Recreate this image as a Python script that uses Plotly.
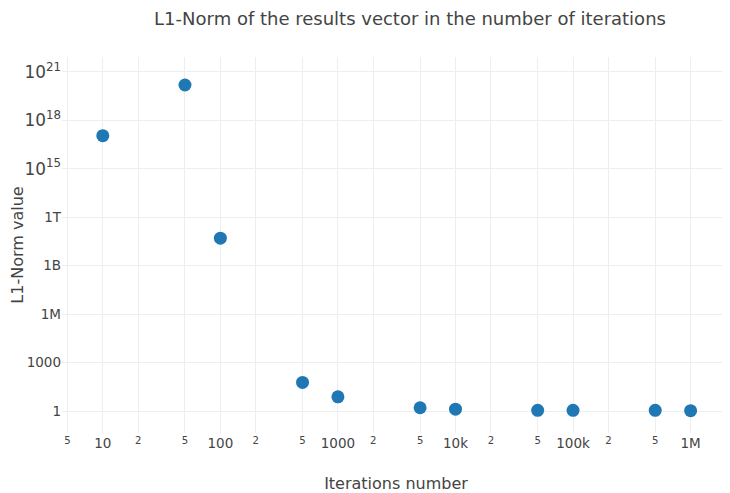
import plotly.graph_objects as go

iterations = [10, 50, 100, 500, 1000, 5000, 10000, 50000, 100000, 500000, 1000000]
l1_norm = [1.1e17, 1.5e20, 5e10, 59, 7.6, 1.6, 1.3, 1.1, 1.1, 1.1, 1.05]

fig = go.Figure(
    go.Scatter(
        x=iterations,
        y=l1_norm,
        mode="markers",
        marker=dict(size=13, color="#1f77b4"),
    )
)

fig.update_layout(
    template="none",
    width=722,
    height=485,
    margin=dict(l=54, r=0, t=49, b=60),
    font=dict(family="Verdana, DejaVu Sans, sans-serif", color="#444", size=13.5),
    title=dict(
        text="L1-Norm of the results vector in the number of iterations",
        x=0.5568,
        xanchor="center",
        y=0.978,
        yanchor="middle",
        font=dict(size=18),
    ),
    plot_bgcolor="white",
    paper_bgcolor="white",
    showlegend=False,
)

fig.update_xaxes(
    type="log",
    range=[0.653, 6.335],
    dtick="D2",
    showgrid=True,
    gridcolor="#eee",
    zeroline=False,
    showline=False,
    ticks="",
    ticklabeloverflow="allow",
    title=dict(text="Iterations number", font=dict(size=16)),
)

fig.update_yaxes(
    type="log",
    range=[-1.36, 21.91],
    dtick=3,
    tick0=0,
    showgrid=True,
    gridcolor="#eee",
    zeroline=False,
    showline=False,
    ticks="",
    title=dict(text="L1-Norm value", font=dict(size=16)),
)

fig.write_html("out.html")
